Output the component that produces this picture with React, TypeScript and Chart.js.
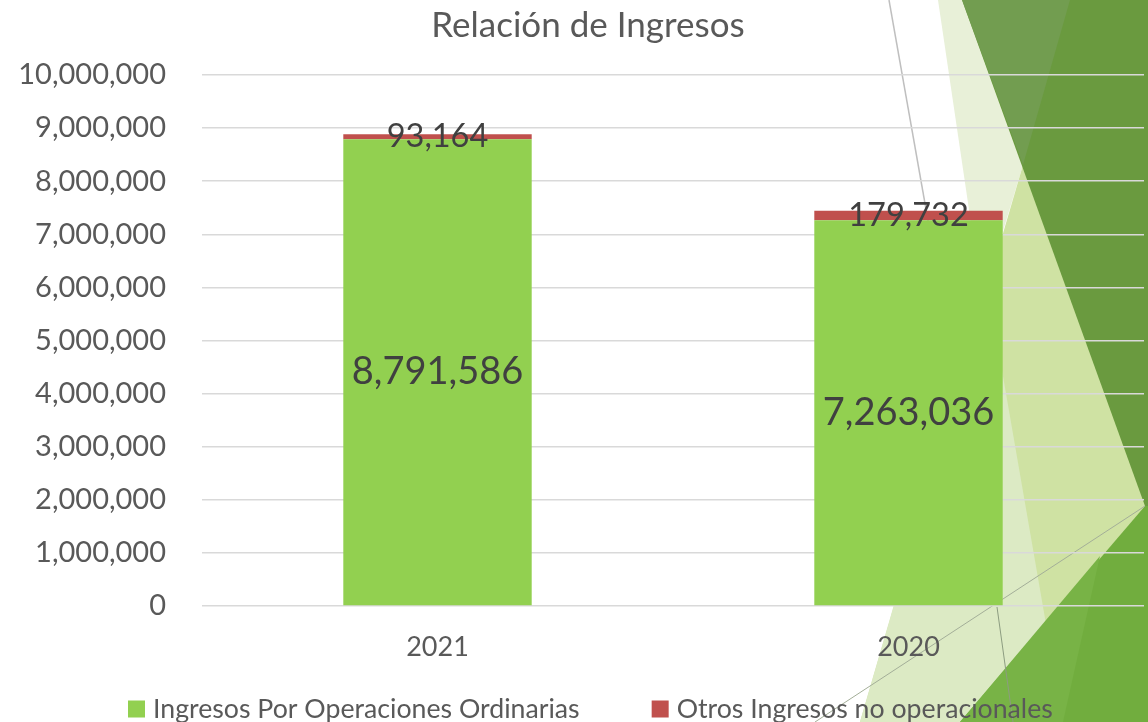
import React, { useEffect, useRef } from "react";
import { Chart, registerables } from "chart.js";

Chart.register(...registerables);

const categories = ["2021", "2020"];
const ordinarias = [8791586, 7263036];
const otros = [93164, 179732];
const seriesNames = ["Ingresos Por Operaciones Ordinarias", "Otros Ingresos no operacionales"];
const seriesColors = ["#92D050", "#C0504D"];
const yMax = 10000000;
const yStep = 1000000;
const titleText = "Relación de Ingresos";

const FONT = "Lato, 'Noto Sans', sans-serif";
const fmt = (v: number) => v.toLocaleString("en-US");

const decorPlugin = {
  id: "decor",
  beforeDraw(chart: any) {
    const ctx = chart.ctx;
    const poly = (pts: number[][], color: string) => {
      ctx.beginPath();
      ctx.moveTo(pts[0][0], pts[0][1]);
      for (let i = 1; i < pts.length; i++) ctx.lineTo(pts[i][0], pts[i][1]);
      ctx.closePath();
      ctx.fillStyle = color;
      ctx.fill();
    };
    const line = (a: number[], b: number[], color: string, w: number) => {
      ctx.beginPath();
      ctx.moveTo(a[0], a[1]);
      ctx.lineTo(b[0], b[1]);
      ctx.strokeStyle = color;
      ctx.lineWidth = w;
      ctx.stroke();
    };
    ctx.save();
    ctx.fillStyle = "#ffffff";
    ctx.fillRect(0, 0, chart.width, chart.height);
    poly([[938, 0], [962, 0], [1023, 165], [987, 284], [980, 284]], "#E8F0D8");
    poly([[1023, 165], [1148, 505], [1148, 722], [860, 722]], "#CFE2A3");
    poly([[987, 284], [1063, 722], [860, 722]], "#DCEAC4");
    poly([[962, 0], [1148, 0], [1148, 508], [1145, 506]], "#6A9A3F");
    poly([[962, 0], [1070, 0], [1023, 165]], "#729D50");
    poly([[1145, 506], [1148, 506], [1148, 722], [960, 722]], "#71AD3E");
    poly([[1100, 556], [1063, 722], [960, 722]], "#78B346");
    line([889, 0], [935, 260], "#BFBFBF", 1.5);
    line([1145, 506], [815, 722], "#A3AE98", 1);
    line([997, 607], [1013, 722], "#8C9C80", 1);
    ctx.restore();
  },
};

const titlePlugin = {
  id: "topTitle",
  afterDraw(chart: any) {
    const ctx = chart.ctx;
    ctx.save();
    ctx.font = "35px " + FONT;
    ctx.fillStyle = "#595959";
    ctx.textAlign = "center";
    ctx.textBaseline = "alphabetic";
    ctx.fillText(titleText, 588, 37);
    ctx.restore();
  },
};

const labelPlugin = {
  id: "valueLabels",
  afterDatasetsDraw(chart: any) {
    const ctx = chart.ctx;
    ctx.save();
    chart.data.datasets.forEach((ds: any, i: number) => {
      const meta = chart.getDatasetMeta(i);
      meta.data.forEach((bar: any, j: number) => {
        const p = bar.getProps(["x", "y", "base"], true);
        const cy = (p.y + p.base) / 2;
        ctx.font = (i === 0 ? "38px " : "32.5px ") + FONT;
        ctx.fillStyle = "#404040";
        ctx.textAlign = "center";
        ctx.textBaseline = "middle";
        ctx.fillText(fmt(ds.data[j]), p.x, cy);
      });
    });
    ctx.restore();
  },
};

const legendPlugin = {
  id: "bottomLegend",
  afterDraw(chart: any) {
    const ctx = chart.ctx;
    ctx.save();
    ctx.font = "26.7px " + FONT;
    ctx.textBaseline = "middle";
    ctx.textAlign = "left";
    let x = 128;
    const cy = 709;
    chart.data.datasets.forEach((ds: any) => {
      ctx.fillStyle = ds.backgroundColor;
      ctx.fillRect(x, cy - 8.5, 17, 17);
      ctx.fillStyle = "#595959";
      ctx.fillText(ds.label, x + 25, cy);
      x += 25 + ctx.measureText(ds.label).width + 72;
    });
    ctx.restore();
  },
};

export default function App() {
  const ref = useRef<HTMLCanvasElement | null>(null);
  useEffect(() => {
    if (!ref.current) return;
    const chart = new Chart(ref.current, {
      type: "bar",
      data: {
        labels: categories,
        datasets: [
          {
            label: seriesNames[0],
            data: ordinarias,
            backgroundColor: seriesColors[0],
            borderWidth: 0,
            barPercentage: 0.4,
            categoryPercentage: 1,
          },
          {
            label: seriesNames[1],
            data: otros,
            backgroundColor: seriesColors[1],
            borderWidth: 0,
            barPercentage: 0.4,
            categoryPercentage: 1,
          },
        ],
      },
      options: {
        animation: false,
        responsive: false,
        maintainAspectRatio: false,
        layout: { padding: { left: 0, right: 4, top: 75, bottom: 0 } },
        plugins: {
          title: { display: false },
          legend: { display: false },
          tooltip: { enabled: false },
        },
        scales: {
          x: {
            stacked: true,
            grid: { display: false, drawTicks: false },
            border: { display: false },
            ticks: {
              color: "#595959",
              font: { family: FONT, size: 27 },
              padding: 25,
            },
            afterFit: (s: any) => {
              s.height = 116;
            },
          },
          y: {
            stacked: true,
            min: 0,
            max: yMax,
            grid: { color: "#D9D9D9", lineWidth: 1.5, drawTicks: false },
            border: { display: false },
            ticks: {
              stepSize: yStep,
              color: "#595959",
              font: { family: FONT, size: 29 },
              padding: 36,
              callback: (v: any) => fmt(Number(v)),
            },
            afterFit: (s: any) => {
              s.width = 202;
            },
          },
        },
      },
      plugins: [decorPlugin, labelPlugin, legendPlugin, titlePlugin],
    });
    return () => chart.destroy();
  }, []);
  return (
    <div style={{ position: "fixed", left: 0, top: 0, width: 1148, height: 722 }}>
      <canvas ref={ref} width={1148} height={722} style={{ display: "block" }} />
    </div>
  );
}
